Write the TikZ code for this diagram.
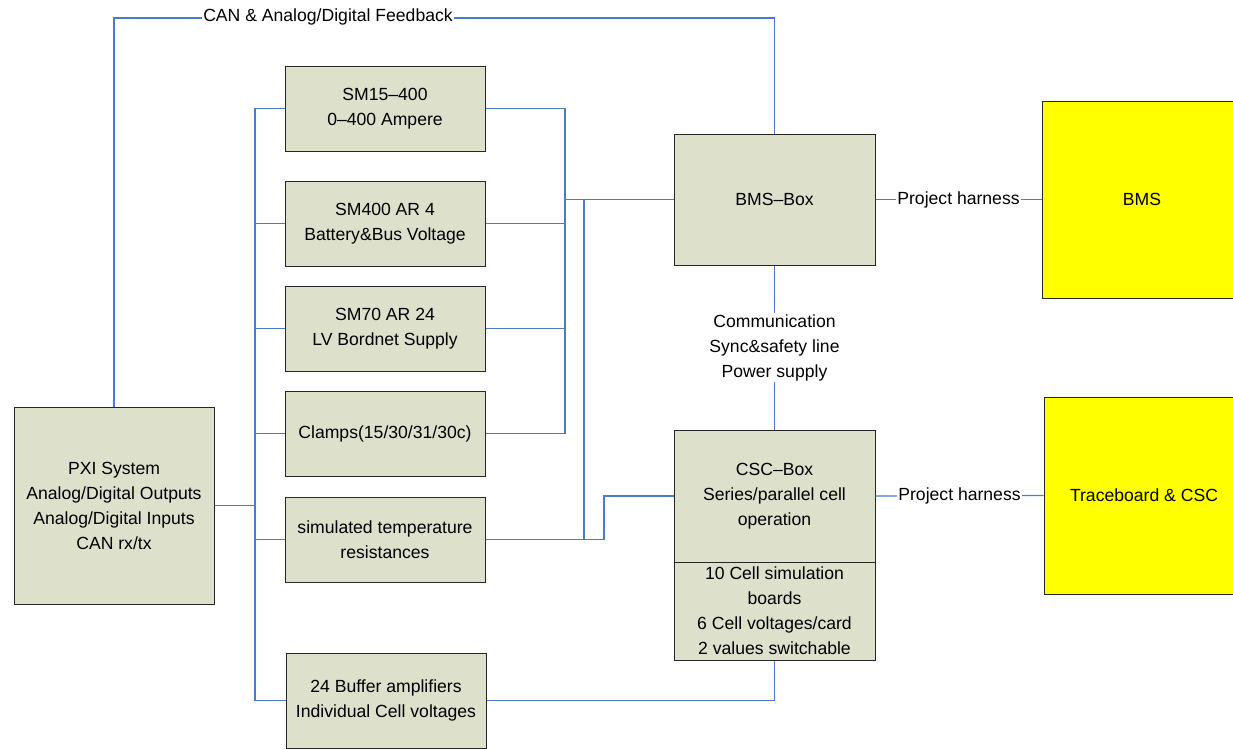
\documentclass[tikz,border=0pt]{standalone}
\usepackage{fontspec}
\setmainfont{Liberation Sans}
\definecolor{boxfill}{HTML}{DDE0CB}
\definecolor{wireblue}{HTML}{4A7CC8}
\definecolor{yel}{HTML}{FFFF00}
\tikzset{
  box/.style={draw=black!85, line width=1pt, fill=boxfill, align=center, inner sep=2pt},
  ybox/.style={draw=black!85, line width=1pt, fill=yel, align=center},
  wire/.style={draw=wireblue, line width=1.3pt},
  lbl/.style={fill=white, inner sep=1pt, align=center, text=black},
}
\begin{document}
\begin{tikzpicture}[x=1pt,y=-1pt, font=\fontsize{17.6}{25}\selectfont]
\clip (0,0) rectangle (1233,748);
\fill[white] (0,0) rectangle (1233,748);

% nodes
\node[box, minimum width=200pt, minimum height=197pt] (pxi) at (114,505.5) {PXI System\\Analog/Digital Outputs\\Analog/Digital Inputs\\CAN rx/tx};
\node[box, minimum width=200pt, minimum height=85pt] (sm15) at (385,108.5) {SM15–400\\0–400 Ampere};
\node[box, minimum width=200pt, minimum height=85pt] (sm400) at (385,223.5) {SM400 AR 4\\Battery\&Bus Voltage};
\node[box, minimum width=200pt, minimum height=85pt] (sm70) at (385,328.5) {SM70 AR 24\\LV Bordnet Supply};
\node[box, minimum width=200pt, minimum height=85pt] (clamps) at (385,433.5) {Clamps(15/30/31/30c)};
\node[box, minimum width=200pt, minimum height=85pt] (simtemp) at (385,539.5) {simulated temperature\\resistances};
\node[box, minimum width=200pt, minimum height=95pt] (buffer) at (386,700.5) {24 Buffer amplifiers\\Individual Cell voltages};
\node[box, minimum width=201pt, minimum height=131pt] (bmsbox) at (774.5,199.5) {BMS–Box};
\node[box, minimum width=201pt, minimum height=132pt] (cscup) at (774.5,496) {CSC–Box\\Series/parallel cell\\operation};
\node[box, minimum width=201pt, minimum height=98pt] (csclow) at (774.5,611) {10 Cell simulation\\boards\\6 Cell voltages/card\\2 values switchable};
\node[ybox, minimum width=200pt, minimum height=197pt] (bms) at (1142,199.5) {BMS};
\node[ybox, minimum width=200pt, minimum height=197pt] (trace) at (1144,495.5) {Traceboard \& CSC};

% junction coordinates
\coordinate (jL) at (255,505.5);
\coordinate (jR) at (565,199.5);
\coordinate (jR2) at (584,199.5);
\coordinate (k) at (604,539.5);
\coordinate (tl) at (114,18);
\coordinate (tr) at (774.5,18);

% left bus
\draw[wire] (pxi.east) -- (jL);
\foreach \n in {sm15,sm400,sm70,clamps,simtemp,buffer}
  \draw[wire] (jL) |- (\n.west);

% right bus
\foreach \n in {sm15,sm400,sm70,clamps}
  \draw[wire] (\n.east) -| (jR);
\draw[wire] (jR) -- (bmsbox.west);
\draw[wire] (simtemp.east) -| (jR2);
\draw[wire] (simtemp.east) -- (k) |- (cscup.west);

% top feedback
\draw[wire] (pxi.north) -- (tl) -- (tr) -- (bmsbox.north);
\node[lbl] (canlbl) at (328,17) {CAN \& Analog/Digital Feedback};

% BMS-Box to CSC-Box
\draw[wire] (bmsbox.south) -- (cscup.north) node[midway, lbl] (comm) {Communication\\Sync\&safety line\\Power supply};

% harnesses
\draw[wire] (bmsbox.east) -- (bms.west) node[midway, lbl] (ph1) {Project harness};
\draw[wire] (cscup.east) -- (trace.west) node[midway, lbl] (ph2) {Project harness};

% buffer to CSC
\draw[wire] (buffer.east) -| (csclow.south);

% redraw boxes over wires ends
\end{tikzpicture}
\end{document}
